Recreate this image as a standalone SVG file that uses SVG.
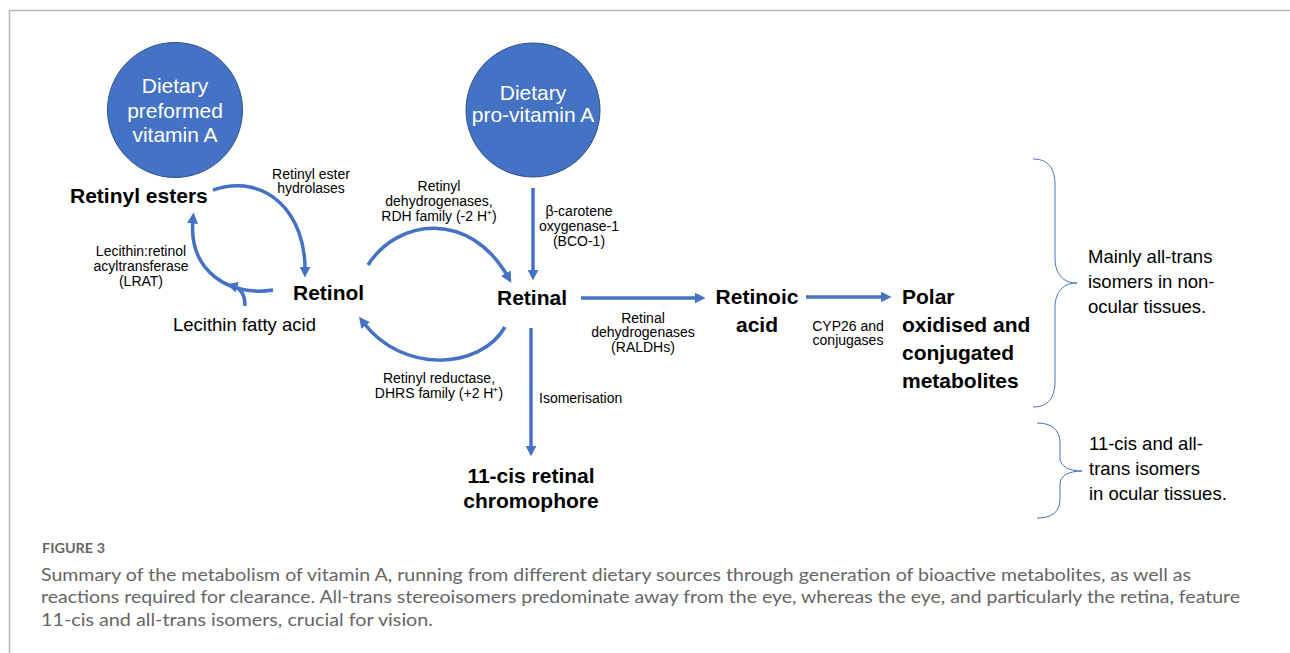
<svg xmlns="http://www.w3.org/2000/svg" width="1290" height="653" viewBox="0 0 1290 653">
<defs>
<style>
.src{fill:#4472C4;stroke:#2F528F;stroke-width:1}
.srct{font-family:"Liberation Sans",Arial,sans-serif;font-size:21px;fill:#fff;text-anchor:middle}
.bold{font-family:"Liberation Sans",Arial,sans-serif;font-size:21px;font-weight:bold;fill:#000}
.lab{font-family:"Liberation Sans",Arial,sans-serif;font-size:14px;fill:#000;text-anchor:middle}
.labs{font-family:"Liberation Sans",Arial,sans-serif;font-size:14px;fill:#000;text-anchor:start}
.big{font-family:"Liberation Sans",Arial,sans-serif;font-size:18.5px;fill:#000}
.arr{fill:none;stroke:#4472C4;stroke-width:3.5;marker-end:url(#ah)}
.brace{fill:none;stroke:#4472C4;stroke-width:1}
.cap{font-family:Lato,"Open Sans",sans-serif;font-size:18px;fill:#666}
</style>
<marker id="ah" viewBox="0 0 10 10" refX="4" refY="5" markerWidth="11" markerHeight="11" markerUnits="userSpaceOnUse" orient="auto">
<path d="M0,0 L10,5 L0,10 z" fill="#4472C4"/>
</marker>
</defs>
<rect width="1290" height="653" fill="#fff"/>
<path d="M9.5,653 L9.5,10.5 L1290,10.5" fill="none" stroke="#b4b4b4" stroke-width="1.5"/>

<g id="dietary-preformed">
<circle class="src" cx="175" cy="110" r="67.5"/>
<text class="srct" x="175" y="93">Dietary</text>
<text class="srct" x="175" y="118">preformed</text>
<text class="srct" x="175" y="142">vitamin A</text>
</g>
<g id="dietary-provitamin">
<circle class="src" cx="533" cy="110" r="67"/>
<text class="srct" x="533" y="100">Dietary</text>
<text class="srct" x="533" y="122">pro-vitamin A</text>
</g>
<g id="retinyl-esters"><text class="bold" x="70" y="203">Retinyl esters</text></g>
<g id="retinol"><text class="bold" x="293" y="300">Retinol</text></g>
<g id="retinal"><text class="bold" x="497" y="305">Retinal</text></g>
<g id="retinoic-acid">
<text class="bold" x="757" y="304" text-anchor="middle">Retinoic</text>
<text class="bold" x="757" y="332" text-anchor="middle">acid</text>
</g>
<g id="polar">
<text class="bold" x="902" y="304">Polar</text>
<text class="bold" x="902" y="332">oxidised and</text>
<text class="bold" x="902" y="360">conjugated</text>
<text class="bold" x="902" y="388">metabolites</text>
</g>
<g id="chromophore">
<text class="bold" x="531" y="483" text-anchor="middle">11-cis retinal</text>
<text class="bold" x="531" y="508" text-anchor="middle">chromophore</text>
</g>
<g id="lecithin"><text class="big" x="173" y="331">Lecithin fatty acid</text></g>

<g id="connectors">
<path class="arr" d="M213,190 C268,172 306,215 305,271"/>
<path class="arr" d="M273,290 C230,297 188,272 193,219"/>
<path class="arr" d="M245,306 C245,294 240,288 233,286"/>
<path class="arr" d="M368,265 C398,218 470,210 508,277"/>
<path class="arr" d="M505,327 C480,370 402,374 363,322"/>
<path class="arr" d="M533,188 L533,274"/>
<path class="arr" d="M581,298 L699,298"/>
<path class="arr" d="M806,297 L885,297"/>
<path class="arr" d="M531,328 L531,450"/>
</g>

<g id="labels">
<text class="lab" x="311" y="179">Retinyl ester</text>
<text class="lab" x="311" y="193">hydrolases</text>
<text class="lab" x="439" y="191">Retinyl</text>
<text class="lab" x="439" y="206">dehydrogenases,</text>
<text class="lab" x="439" y="221">RDH family (-2 H⁺)</text>
<text class="lab" x="579" y="216">β-carotene</text>
<text class="lab" x="579" y="231">oxygenase-1</text>
<text class="lab" x="579" y="246">(BCO-1)</text>
<text class="lab" x="141" y="256">Lecithin:retinol</text>
<text class="lab" x="141" y="271">acyltransferase</text>
<text class="lab" x="141" y="286">(LRAT)</text>
<text class="lab" x="643" y="323">Retinal</text>
<text class="lab" x="643" y="337">dehydrogenases</text>
<text class="lab" x="643" y="352">(RALDHs)</text>
<text class="lab" x="848" y="331">CYP26 and</text>
<text class="lab" x="848" y="345">conjugases</text>
<text class="lab" x="439" y="383">Retinyl reductase,</text>
<text class="lab" x="439" y="398">DHRS family (+2 H⁺)</text>
<text class="labs" x="539" y="403">Isomerisation</text>
</g>

<g id="brace-nonocular">
<path class="brace" d="M1033,159 C1048,159 1055,168 1055,185 L1055,258 C1055,275 1064,283 1077,283 C1064,283 1055,291 1055,308 L1055,381 C1055,398 1048,407 1033,407"/>
<text class="big" x="1088" y="263">Mainly all-trans</text>
<text class="big" x="1088" y="288">isomers in non-</text>
<text class="big" x="1088" y="313">ocular tissues.</text>
</g>
<g id="brace-ocular">
<path class="brace" d="M1037,423 C1052,423 1060,430 1060,443 L1060,458 C1060,467 1070,471 1082,471 C1070,471 1060,475 1060,484 L1060,499 C1060,512 1052,518 1037,518"/>
<text class="big" x="1089" y="450">11-cis and all-</text>
<text class="big" x="1089" y="475">trans isomers</text>
<text class="big" x="1089" y="500">in ocular tissues.</text>
</g>

<g id="caption">
<text x="42" y="553" font-family="Lato,'Open Sans',sans-serif" font-size="14" font-weight="bold" fill="#666" textLength="63" lengthAdjust="spacingAndGlyphs">FIGURE 3</text>
<text class="cap" x="41" y="581" textLength="1150" lengthAdjust="spacingAndGlyphs">Summary of the metabolism of vitamin A, running from different dietary sources through generation of bioactive metabolites, as well as</text>
<text class="cap" x="41" y="603" textLength="1199" lengthAdjust="spacingAndGlyphs">reactions required for clearance. All-trans stereoisomers predominate away from the eye, whereas the eye, and particularly the retina, feature</text>
<text class="cap" x="41" y="626" textLength="392" lengthAdjust="spacingAndGlyphs">11-cis and all-trans isomers, crucial for vision.</text>
</g>
</svg>
